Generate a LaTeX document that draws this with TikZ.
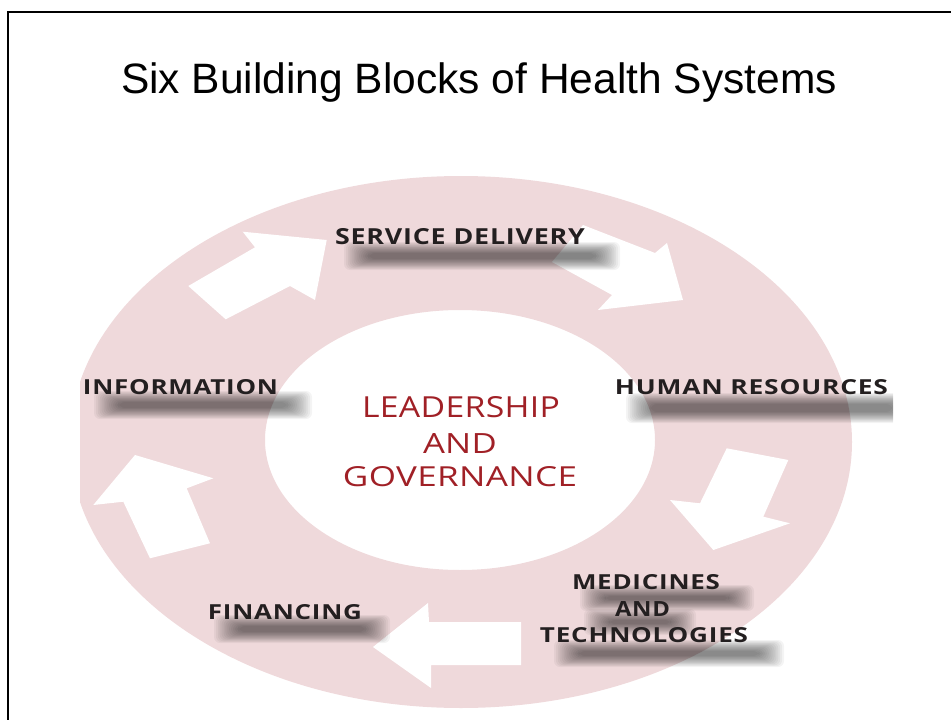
\documentclass[tikz,border=0pt]{standalone}
\usepackage{fontspec}
\setmainfont{Liberation Sans}
\newfontfamily\labfont{Open Sans}[LetterSpace=3]
\newfontfamily\ctrfont{Open Sans}[LetterSpace=1]
\definecolor{ringpink}{RGB}{239,217,219}
\definecolor{labtxt}{RGB}{35,31,32}
\definecolor{ctrred}{RGB}{160,32,38}
\newcommand\lab[3]{\resizebox{#1pt}{#2pt}{\labfont\bfseries #3}}
\newcommand\ctr[3]{\resizebox{#1pt}{#2pt}{\ctrfont #3}}
\newcommand\shband[4]{%
  \foreach \k in {0,...,13}{%
    \fill[black, opacity=0.042, rounded corners=6pt]
      ({#1+\k*1.9},{#2+\k*0.85}) rectangle ({#3-\k*1.9},{#4-\k*0.85});}}
\tikzset{
  labnode/.style={inner sep=0pt, text=labtxt, font=\fontsize{21}{26}\selectfont},
  ctrnode/.style={inner sep=0pt, text=ctrred, font=\fontsize{30}{35}\selectfont},
  blockarrow/.style={fill=white},
  frameline/.style={line width=2.5pt, black}
}
\begin{document}
\begin{tikzpicture}[x=1pt, y=-1pt]
\useasboundingbox (0,0) rectangle (951,720);
% frame
\coordinate (fbl) at (8,721);
\coordinate (ftl) at (8,12);
\coordinate (ftr) at (952,12);
\draw[frameline] (fbl) -- (ftl) -- (ftr);
% title
\node[anchor=base, inner sep=0pt, font=\fontsize{42.5}{50}\selectfont] (title) at (479,93) {Six Building Blocks of Health Systems};
% ring
\coordinate (ringc) at (461,442);
\coordinate (holec) at (460,440);
\begin{scope}
  \clip (80,0) rectangle (951,720);
  \fill[ringpink, even odd rule] (ringc) ellipse [x radius=391, y radius=266]
                                 (holec) ellipse [x radius=195, y radius=130];
\end{scope}
% arrows
\fill[blockarrow] (242.7,231.7) -- (326.7,240) -- (315,300) -- (290,286) -- (225.7,319.3) -- (188.3,286) -- (255,247.3) -- cycle;
\fill[blockarrow] (583,225) -- (655,253) -- (667,243) -- (683,300) -- (598,310) -- (612,295) -- (552,262) -- cycle;
\fill[blockarrow] (726.7,448.3) -- (788.3,460) -- (763.3,516.7) -- (790,523.3) -- (713.3,550) -- (670,500) -- (700,503.3) -- cycle;
\fill[blockarrow] (521,622) -- (521,665) -- (431,665) -- (431,688) -- (373,647) -- (428,603) -- (429,622) -- cycle;
\fill[blockarrow] (135,455) -- (213.3,478.3) -- (186.7,488.3) -- (210,543.3) -- (150,558.3) -- (123.3,501.7) -- (93.3,505) -- cycle;
% shadows
\shband{344}{242}{620}{270}
\shband{94}{391}{312}{419}
\begin{scope}
  \clip (0,0) rectangle (893,720);
  \shband{626}{393}{917}{423}
\end{scope}
\shband{214}{615}{390}{643}
\shband{580}{585}{754}{611}
\shband{584}{609}{696}{635}
\shband{554}{640}{784}{667}
% labels
\node[labnode] (sd) at (460,236.5) {\lab{250}{16}{SERVICE DELIVERY}};
\node[labnode] (info) at (180.5,387.5) {\lab{195}{15}{INFORMATION}};
\node[labnode] (hr) at (751.5,387.5) {\lab{273}{15}{HUMAN RESOURCES}};
\node[labnode] (fin) at (285,612.5) {\lab{154}{15}{FINANCING}};
\node[labnode] (med1) at (646,582.5) {\lab{148}{15}{MEDICINES}};
\node[labnode] (med2) at (642.5,609) {\lab{55}{15}{AND}};
\node[labnode] (med3) at (644,635.5) {\lab{208}{15}{TECHNOLOGIES}};
% centre
\node[ctrnode] (lg1) at (461,407.5) {\ctr{198}{21}{LEADERSHIP}};
\node[ctrnode] (lg2) at (460,443) {\ctr{74}{20}{AND}};
\node[ctrnode] (lg3) at (460,477) {\ctr{234}{20}{GOVERNANCE}};
\end{tikzpicture}
\end{document}
